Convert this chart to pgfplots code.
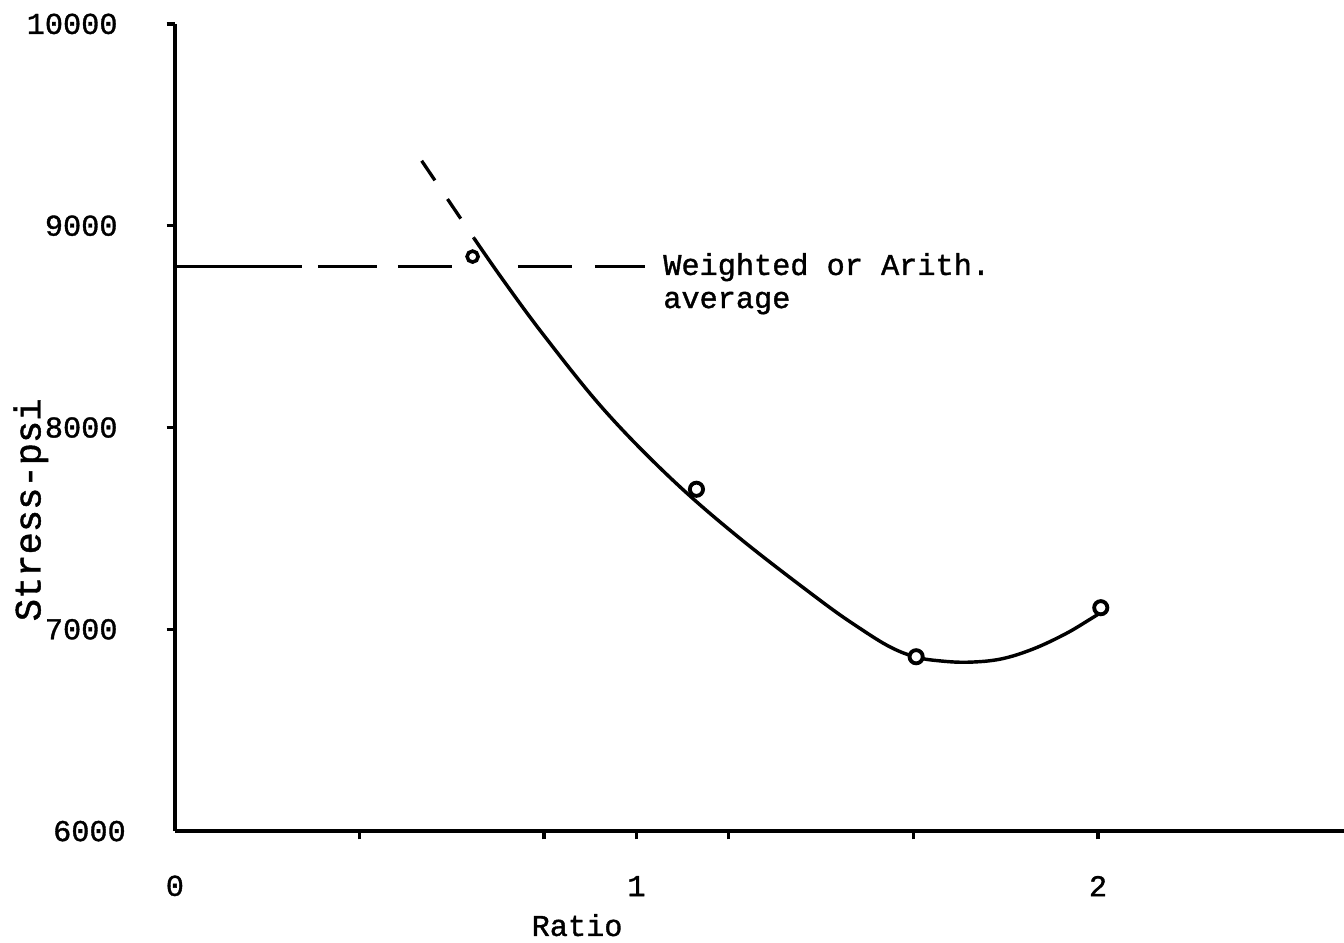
\documentclass[border=0pt]{standalone}
\usepackage{fontspec}
\setmainfont{Liberation Mono}[FakeBold=1.2]
\usepackage{pgfplots}
\pgfplotsset{compat=1.18}
\begin{document}
\fontsize{11}{12.4}\selectfont
\begin{tikzpicture}
\begin{axis}[
  at={(0,0)}, anchor=south west,
  scale only axis, width=425.1pt, height=293.5pt,
  xmin=0, xmax=2.533, ymin=6000, ymax=10000,
  axis lines*=left,
  axis line style={line width=1.4pt, -},
  tick align=outside, major tick length=3pt,
  tick style={line width=1.2pt, black},
  xtick={0.4,0.8,1,1.2,1.6,2}, xticklabels={,,1,,,2},
  extra x ticks={0}, extra x tick labels={0},
  ytick={7000,8000,9000,10000}, yticklabels={7000,8000,9000,10000},
  extra y ticks={6000}, extra y tick labels={6000},
  extra tick style={major tick length=0pt},
  extra x tick style={xticklabel style={yshift=-2.9pt}},
  scaled ticks=false,
  xticklabel style={anchor=center, yshift=-17pt},
  yticklabel style={anchor=east, xshift=-14pt},
  xlabel={Ratio}, ylabel={\fontsize{13.5}{15}\selectfont Stress-psi},
  every axis x label/.style={at={(axis description cs:0.344,-0.1165)}, anchor=center},
  every axis y label/.style={at={(axis description cs:-0.1232,0.398)}, anchor=center, rotate=90},
  unbounded coords=jump,
  clip=false,
]
% horizontal dashed reference line (weighted / arithmetic average)
\addplot[black, line width=1.1pt] coordinates {
  (0,8800) (0.2745,8800) (nan,nan)
  (0.310,8800) (0.437,8800) (nan,nan)
  (0.483,8800) (0.5996,8800) (nan,nan)
  (0.743,8800) (0.8596,8800) (nan,nan)
  (0.910,8800) (1.0184,8800)
};
% dashed extrapolation of curve
\addplot[black, line width=1.2pt, dash pattern=on 8.6pt off 8.2pt] coordinates {
  (0.5346,9322) (0.648,8938)
};
% fitted curve
\addplot[black, line width=1.25pt, smooth, tension=0.6] coordinates {
  (0.648,8938) (0.711,8731) (0.80,8455) (0.93,8087) (1.076,7745)
  (1.224,7451) (1.40,7140) (1.484,7005) (1.55,6912) (1.606,6862)
  (1.66,6843) (1.72,6837) (1.79,6853) (1.86,6903) (1.93,6978)
  (1.983,7050) (2.006,7083)
};
% data points
\addplot[only marks, mark=*, mark size=2.0pt,
  mark options={draw=black, fill=white, line width=1.3pt, solid}] coordinates {
  (0.645,8847)
};
\addplot[only marks, mark=*, mark size=2.4pt,
  mark options={draw=black, fill=white, line width=1.4pt, solid}] coordinates {
  (1.130,7694) (1.606,6864) (2.006,7107)
};
\node[anchor=base west, inner sep=0pt] at (axis cs:1.057,8756) {Weighted or Arith.};
\node[anchor=base west, inner sep=0pt] at (axis cs:1.057,8592) {average};
\end{axis}
\pgfresetboundingbox
\path[use as bounding box] (-63.6pt,-40.4pt) rectangle (425.1pt,302.2pt);
\end{tikzpicture}
\end{document}
